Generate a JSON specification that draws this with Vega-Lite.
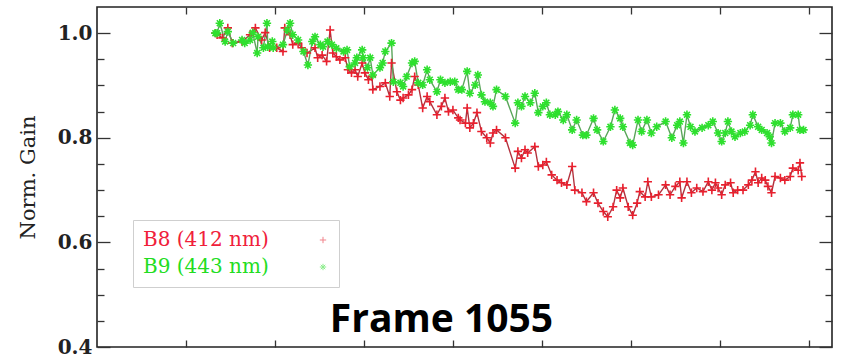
{
"$schema": "https://vega.github.io/schema/vega-lite/v6.json",
"width": 735, "height": 340,
"autosize": {"type": "none"},
"padding": {"left": 97, "top": 7, "right": 12, "bottom": 7},
"background": "white",
"config": {
  "view": {"stroke": "#222", "strokeWidth": 1.6},
  "axis": {"domain": false, "grid": false, "tickColor": "#333", "tickWidth": 1.3}
},
"title": {"text": "Frame 1055", "orient": "bottom", "anchor": "middle", "dx": -23, "offset": -25, "baseline": "alphabetic", "font": "Open Sans", "fontSize": 39, "fontWeight": "bold", "color": "#000"},
"data": {"values": [
{"s":"B8 (412 nm)","t":133,"v":1.000},{"s":"B8 (412 nm)","t":135,"v":0.997},{"s":"B8 (412 nm)","t":141,"v":0.991},{"s":"B8 (412 nm)","t":147,"v":1.010},{"s":"B8 (412 nm)","t":152,"v":0.981},{"s":"B8 (412 nm)","t":163,"v":0.984},{"s":"B8 (412 nm)","t":172,"v":0.997},{"s":"B8 (412 nm)","t":178,"v":1.010},{"s":"B8 (412 nm)","t":185,"v":0.987},{"s":"B8 (412 nm)","t":189,"v":1.001},{"s":"B8 (412 nm)","t":194,"v":0.972},{"s":"B8 (412 nm)","t":202,"v":0.972},{"s":"B8 (412 nm)","t":209,"v":0.965},{"s":"B8 (412 nm)","t":211,"v":1.010},{"s":"B8 (412 nm)","t":217,"v":0.997},{"s":"B8 (412 nm)","t":220,"v":0.978},{"s":"B8 (412 nm)","t":226,"v":0.981},{"s":"B8 (412 nm)","t":230,"v":0.972},{"s":"B8 (412 nm)","t":236,"v":0.962},{"s":"B8 (412 nm)","t":245,"v":0.972},{"s":"B8 (412 nm)","t":248,"v":0.953},{"s":"B8 (412 nm)","t":253,"v":0.958},{"s":"B8 (412 nm)","t":258,"v":0.946},{"s":"B8 (412 nm)","t":262,"v":1.006},{"s":"B8 (412 nm)","t":265,"v":0.962},
{"s":"B8 (412 nm)","t":269,"v":0.955},{"s":"B8 (412 nm)","t":273,"v":0.949},{"s":"B8 (412 nm)","t":279,"v":0.953},{"s":"B8 (412 nm)","t":282,"v":0.930},{"s":"B8 (412 nm)","t":286,"v":0.924},{"s":"B8 (412 nm)","t":290,"v":0.930},{"s":"B8 (412 nm)","t":293,"v":0.917},{"s":"B8 (412 nm)","t":298,"v":0.943},{"s":"B8 (412 nm)","t":301,"v":0.924},{"s":"B8 (412 nm)","t":305,"v":0.911},{"s":"B8 (412 nm)","t":309,"v":0.917},{"s":"B8 (412 nm)","t":310,"v":0.892},{"s":"B8 (412 nm)","t":318,"v":0.898},{"s":"B8 (412 nm)","t":324,"v":0.905},{"s":"B8 (412 nm)","t":329,"v":0.879},{"s":"B8 (412 nm)","t":331,"v":0.943},{"s":"B8 (412 nm)","t":337,"v":0.888},{"s":"B8 (412 nm)","t":341,"v":0.872},{"s":"B8 (412 nm)","t":344,"v":0.876},{"s":"B8 (412 nm)","t":350,"v":0.882},{"s":"B8 (412 nm)","t":354,"v":0.892},{"s":"B8 (412 nm)","t":357,"v":0.917},{"s":"B8 (412 nm)","t":361,"v":0.901},{"s":"B8 (412 nm)","t":366,"v":0.857},{"s":"B8 (412 nm)","t":371,"v":0.879},{"s":"B8 (412 nm)","t":374,"v":0.869},{"s":"B8 (412 nm)","t":382,"v":0.844},{"s":"B8 (412 nm)","t":387,"v":0.860},{"s":"B8 (412 nm)","t":391,"v":0.876},{"s":"B8 (412 nm)","t":395,"v":0.850},{"s":"B8 (412 nm)","t":400,"v":0.853},{"s":"B8 (412 nm)","t":406,"v":0.838},
{"s":"B8 (412 nm)","t":408,"v":0.834},{"s":"B8 (412 nm)","t":414,"v":0.828},{"s":"B8 (412 nm)","t":416,"v":0.857},{"s":"B8 (412 nm)","t":419,"v":0.819},{"s":"B8 (412 nm)","t":423,"v":0.828},{"s":"B8 (412 nm)","t":427,"v":0.848},{"s":"B8 (412 nm)","t":432,"v":0.812},{"s":"B8 (412 nm)","t":438,"v":0.800},{"s":"B8 (412 nm)","t":442,"v":0.790},{"s":"B8 (412 nm)","t":445,"v":0.809},{"s":"B8 (412 nm)","t":449,"v":0.815},{"s":"B8 (412 nm)","t":459,"v":0.800},{"s":"B8 (412 nm)","t":470,"v":0.742},{"s":"B8 (412 nm)","t":473,"v":0.774},{"s":"B8 (412 nm)","t":477,"v":0.761},{"s":"B8 (412 nm)","t":481,"v":0.777},{"s":"B8 (412 nm)","t":484,"v":0.771},{"s":"B8 (412 nm)","t":492,"v":0.783},{"s":"B8 (412 nm)","t":496,"v":0.745},{"s":"B8 (412 nm)","t":501,"v":0.748},{"s":"B8 (412 nm)","t":505,"v":0.754},{"s":"B8 (412 nm)","t":511,"v":0.729},{"s":"B8 (412 nm)","t":517,"v":0.719},{"s":"B8 (412 nm)","t":522,"v":0.714},{"s":"B8 (412 nm)","t":528,"v":0.710},{"s":"B8 (412 nm)","t":534,"v":0.745},{"s":"B8 (412 nm)","t":537,"v":0.700},{"s":"B8 (412 nm)","t":545,"v":0.695},
{"s":"B8 (412 nm)","t":550,"v":0.678},{"s":"B8 (412 nm)","t":558,"v":0.695},{"s":"B8 (412 nm)","t":563,"v":0.675},{"s":"B8 (412 nm)","t":569,"v":0.659},{"s":"B8 (412 nm)","t":574,"v":0.649},{"s":"B8 (412 nm)","t":580,"v":0.668},{"s":"B8 (412 nm)","t":584,"v":0.700},{"s":"B8 (412 nm)","t":588,"v":0.685},{"s":"B8 (412 nm)","t":591,"v":0.704},{"s":"B8 (412 nm)","t":597,"v":0.668},{"s":"B8 (412 nm)","t":602,"v":0.652},{"s":"B8 (412 nm)","t":607,"v":0.675},{"s":"B8 (412 nm)","t":610,"v":0.697},{"s":"B8 (412 nm)","t":616,"v":0.687},{"s":"B8 (412 nm)","t":619,"v":0.716},{"s":"B8 (412 nm)","t":623,"v":0.687},{"s":"B8 (412 nm)","t":631,"v":0.691},{"s":"B8 (412 nm)","t":639,"v":0.710},{"s":"B8 (412 nm)","t":644,"v":0.691},{"s":"B8 (412 nm)","t":650,"v":0.707},{"s":"B8 (412 nm)","t":655,"v":0.716},{"s":"B8 (412 nm)","t":657,"v":0.685},{"s":"B8 (412 nm)","t":663,"v":0.716},{"s":"B8 (412 nm)","t":668,"v":0.695},{"s":"B8 (412 nm)","t":674,"v":0.704},{"s":"B8 (412 nm)","t":681,"v":0.697},
{"s":"B8 (412 nm)","t":687,"v":0.716},{"s":"B8 (412 nm)","t":691,"v":0.700},{"s":"B8 (412 nm)","t":695,"v":0.714},{"s":"B8 (412 nm)","t":698,"v":0.704},{"s":"B8 (412 nm)","t":702,"v":0.691},{"s":"B8 (412 nm)","t":706,"v":0.710},{"s":"B8 (412 nm)","t":712,"v":0.714},{"s":"B8 (412 nm)","t":715,"v":0.695},{"s":"B8 (412 nm)","t":720,"v":0.700},{"s":"B8 (412 nm)","t":726,"v":0.700},{"s":"B8 (412 nm)","t":732,"v":0.710},{"s":"B8 (412 nm)","t":736,"v":0.719},{"s":"B8 (412 nm)","t":740,"v":0.735},{"s":"B8 (412 nm)","t":743,"v":0.714},{"s":"B8 (412 nm)","t":747,"v":0.723},{"s":"B8 (412 nm)","t":751,"v":0.719},{"s":"B8 (412 nm)","t":754,"v":0.707},{"s":"B8 (412 nm)","t":758,"v":0.695},{"s":"B8 (412 nm)","t":762,"v":0.726},{"s":"B8 (412 nm)","t":768,"v":0.723},{"s":"B8 (412 nm)","t":773,"v":0.719},{"s":"B8 (412 nm)","t":779,"v":0.726},{"s":"B8 (412 nm)","t":782,"v":0.742},{"s":"B8 (412 nm)","t":788,"v":0.738},{"s":"B8 (412 nm)","t":790,"v":0.752},{"s":"B8 (412 nm)","t":792,"v":0.726},
{"s":"B9 (443 nm)","t":133,"v":1.000},{"s":"B9 (443 nm)","t":135,"v":1.000},{"s":"B9 (443 nm)","t":138,"v":1.019},{"s":"B9 (443 nm)","t":144,"v":0.984},{"s":"B9 (443 nm)","t":147,"v":1.003},{"s":"B9 (443 nm)","t":153,"v":0.981},{"s":"B9 (443 nm)","t":163,"v":0.987},{"s":"B9 (443 nm)","t":166,"v":0.981},{"s":"B9 (443 nm)","t":172,"v":0.987},{"s":"B9 (443 nm)","t":175,"v":1.001},{"s":"B9 (443 nm)","t":180,"v":0.962},{"s":"B9 (443 nm)","t":181,"v":0.993},{"s":"B9 (443 nm)","t":187,"v":0.972},{"s":"B9 (443 nm)","t":191,"v":1.019},{"s":"B9 (443 nm)","t":192,"v":0.974},{"s":"B9 (443 nm)","t":197,"v":0.984},{"s":"B9 (443 nm)","t":198,"v":0.972},{"s":"B9 (443 nm)","t":209,"v":0.978},{"s":"B9 (443 nm)","t":214,"v":1.006},{"s":"B9 (443 nm)","t":217,"v":1.019},{"s":"B9 (443 nm)","t":220,"v":0.997},{"s":"B9 (443 nm)","t":226,"v":0.987},{"s":"B9 (443 nm)","t":232,"v":0.965},{"s":"B9 (443 nm)","t":237,"v":0.939},{"s":"B9 (443 nm)","t":242,"v":0.984},{"s":"B9 (443 nm)","t":245,"v":0.993},{"s":"B9 (443 nm)","t":251,"v":0.978},{"s":"B9 (443 nm)","t":254,"v":0.974},{"s":"B9 (443 nm)","t":259,"v":0.984},{"s":"B9 (443 nm)","t":264,"v":0.978},
{"s":"B9 (443 nm)","t":269,"v":0.971},{"s":"B9 (443 nm)","t":277,"v":0.965},{"s":"B9 (443 nm)","t":281,"v":0.968},{"s":"B9 (443 nm)","t":284,"v":0.936},{"s":"B9 (443 nm)","t":290,"v":0.943},{"s":"B9 (443 nm)","t":292,"v":0.953},{"s":"B9 (443 nm)","t":298,"v":0.968},{"s":"B9 (443 nm)","t":299,"v":0.953},{"s":"B9 (443 nm)","t":304,"v":0.934},{"s":"B9 (443 nm)","t":307,"v":0.953},{"s":"B9 (443 nm)","t":310,"v":0.920},{"s":"B9 (443 nm)","t":318,"v":0.934},{"s":"B9 (443 nm)","t":321,"v":0.943},{"s":"B9 (443 nm)","t":324,"v":0.965},{"s":"B9 (443 nm)","t":331,"v":0.981},{"s":"B9 (443 nm)","t":333,"v":0.907},{"s":"B9 (443 nm)","t":341,"v":0.905},{"s":"B9 (443 nm)","t":344,"v":0.898},{"s":"B9 (443 nm)","t":348,"v":0.917},{"s":"B9 (443 nm)","t":354,"v":0.943},{"s":"B9 (443 nm)","t":357,"v":0.946},{"s":"B9 (443 nm)","t":361,"v":0.905},{"s":"B9 (443 nm)","t":366,"v":0.901},{"s":"B9 (443 nm)","t":371,"v":0.930},{"s":"B9 (443 nm)","t":374,"v":0.911},{"s":"B9 (443 nm)","t":382,"v":0.888},{"s":"B9 (443 nm)","t":386,"v":0.911},{"s":"B9 (443 nm)","t":391,"v":0.905},{"s":"B9 (443 nm)","t":397,"v":0.907},{"s":"B9 (443 nm)","t":402,"v":0.907},{"s":"B9 (443 nm)","t":406,"v":0.892},
{"s":"B9 (443 nm)","t":410,"v":0.892},{"s":"B9 (443 nm)","t":416,"v":0.927},{"s":"B9 (443 nm)","t":419,"v":0.885},{"s":"B9 (443 nm)","t":425,"v":0.901},{"s":"B9 (443 nm)","t":428,"v":0.920},{"s":"B9 (443 nm)","t":432,"v":0.882},{"s":"B9 (443 nm)","t":436,"v":0.869},{"s":"B9 (443 nm)","t":442,"v":0.867},{"s":"B9 (443 nm)","t":445,"v":0.860},{"s":"B9 (443 nm)","t":449,"v":0.892},{"s":"B9 (443 nm)","t":459,"v":0.879},{"s":"B9 (443 nm)","t":470,"v":0.828},{"s":"B9 (443 nm)","t":473,"v":0.867},{"s":"B9 (443 nm)","t":477,"v":0.860},{"s":"B9 (443 nm)","t":481,"v":0.879},{"s":"B9 (443 nm)","t":487,"v":0.867},{"s":"B9 (443 nm)","t":492,"v":0.885},{"s":"B9 (443 nm)","t":496,"v":0.848},{"s":"B9 (443 nm)","t":501,"v":0.860},{"s":"B9 (443 nm)","t":505,"v":0.867},{"s":"B9 (443 nm)","t":509,"v":0.844},{"s":"B9 (443 nm)","t":515,"v":0.844},{"s":"B9 (443 nm)","t":518,"v":0.850},{"s":"B9 (443 nm)","t":524,"v":0.834},{"s":"B9 (443 nm)","t":528,"v":0.844},{"s":"B9 (443 nm)","t":534,"v":0.815},{"s":"B9 (443 nm)","t":539,"v":0.834},{"s":"B9 (443 nm)","t":546,"v":0.805},
{"s":"B9 (443 nm)","t":550,"v":0.805},{"s":"B9 (443 nm)","t":558,"v":0.837},{"s":"B9 (443 nm)","t":562,"v":0.815},{"s":"B9 (443 nm)","t":569,"v":0.793},{"s":"B9 (443 nm)","t":577,"v":0.821},{"s":"B9 (443 nm)","t":582,"v":0.853},{"s":"B9 (443 nm)","t":588,"v":0.837},{"s":"B9 (443 nm)","t":591,"v":0.821},{"s":"B9 (443 nm)","t":599,"v":0.790},{"s":"B9 (443 nm)","t":602,"v":0.786},{"s":"B9 (443 nm)","t":608,"v":0.834},{"s":"B9 (443 nm)","t":612,"v":0.812},{"s":"B9 (443 nm)","t":618,"v":0.834},{"s":"B9 (443 nm)","t":623,"v":0.809},{"s":"B9 (443 nm)","t":629,"v":0.821},{"s":"B9 (443 nm)","t":639,"v":0.831},{"s":"B9 (443 nm)","t":646,"v":0.800},{"s":"B9 (443 nm)","t":652,"v":0.824},{"s":"B9 (443 nm)","t":655,"v":0.831},{"s":"B9 (443 nm)","t":659,"v":0.790},{"s":"B9 (443 nm)","t":663,"v":0.844},{"s":"B9 (443 nm)","t":667,"v":0.821},{"s":"B9 (443 nm)","t":672,"v":0.812},{"s":"B9 (443 nm)","t":680,"v":0.819},
{"s":"B9 (443 nm)","t":687,"v":0.824},{"s":"B9 (443 nm)","t":692,"v":0.831},{"s":"B9 (443 nm)","t":698,"v":0.809},{"s":"B9 (443 nm)","t":702,"v":0.793},{"s":"B9 (443 nm)","t":706,"v":0.809},{"s":"B9 (443 nm)","t":709,"v":0.831},{"s":"B9 (443 nm)","t":713,"v":0.812},{"s":"B9 (443 nm)","t":717,"v":0.802},{"s":"B9 (443 nm)","t":723,"v":0.809},{"s":"B9 (443 nm)","t":728,"v":0.812},{"s":"B9 (443 nm)","t":734,"v":0.824},{"s":"B9 (443 nm)","t":737,"v":0.844},{"s":"B9 (443 nm)","t":743,"v":0.821},{"s":"B9 (443 nm)","t":747,"v":0.815},{"s":"B9 (443 nm)","t":753,"v":0.809},{"s":"B9 (443 nm)","t":756,"v":0.802},{"s":"B9 (443 nm)","t":758,"v":0.790},{"s":"B9 (443 nm)","t":762,"v":0.828},{"s":"B9 (443 nm)","t":768,"v":0.828},{"s":"B9 (443 nm)","t":773,"v":0.812},{"s":"B9 (443 nm)","t":779,"v":0.819},{"s":"B9 (443 nm)","t":782,"v":0.844},{"s":"B9 (443 nm)","t":788,"v":0.844},{"s":"B9 (443 nm)","t":790,"v":0.815},{"s":"B9 (443 nm)","t":794,"v":0.815}
]},
"layer": [
  {
    "transform": [{"filter": "datum.s == 'B8 (412 nm)'"}],
    "mark": {"type": "line", "strokeWidth": 1.4, "color": "#b3313d"},
    "encoding": {
      "x": {"field": "t", "type": "quantitative", "scale": {"domain": [0, 826], "nice": false, "zero": false},
            "axis": {"orient": "bottom", "values": [100,200,300,400,500,600,700,800], "labels": false, "tickSize": -7, "title": null}},
      "y": {"field": "v", "type": "quantitative", "scale": {"domain": [0.4, 1.05], "nice": false, "zero": false},
            "axis": {"orient": "left", "values": [0.4,0.6,0.8,1.0], "ticks": false, "format": ".1f",
                     "labelFont": "DejaVu Serif", "labelFontWeight": "bold", "labelFontSize": 20, "labelColor": "#222", "labelPadding": 5,
                     "title": "Norm. Gain", "titleFont": "DejaVu Serif", "titleFontWeight": "normal", "titleFontSize": 21, "titleColor": "#222", "titlePadding": 19}}
    }
  },
  {
    "transform": [{"filter": "datum.s == 'B9 (443 nm)'"}],
    "mark": {"type": "line", "strokeWidth": 1.4, "color": "#5aa55a"},
    "encoding": {
      "x": {"field": "t", "type": "quantitative", "scale": {"domain": [0, 826], "nice": false, "zero": false}, "axis": null},
      "y": {"field": "v", "type": "quantitative", "scale": {"domain": [0.4, 1.05], "nice": false, "zero": false},
            "axis": {"orient": "left", "values": [0.4,0.45,0.5,0.55,0.6,0.65,0.7,0.75,0.8,0.85,0.9,0.95,1.0],
                     "tickSize": {"condition": {"test": "abs(datum.value*5 - round(datum.value*5)) < 0.01", "value": -13}, "value": -7},
                     "labels": false, "title": null}}
    }
  },
  {
    "mark": {"type": "point", "filled": false, "size": 70, "strokeWidth": 1.6, "opacity": 1},
    "encoding": {
      "x": {"field": "t", "type": "quantitative", "scale": {"domain": [0, 826], "nice": false, "zero": false},
            "axis": {"orient": "top", "values": [100,200,300,400,500,600,700,800], "labels": false, "tickSize": -7, "title": null}},
      "y": {"field": "v", "type": "quantitative", "scale": {"domain": [0.4, 1.05], "nice": false, "zero": false},
            "axis": {"orient": "right", "values": [0.4,0.45,0.5,0.55,0.6,0.65,0.7,0.75,0.8,0.85,0.9,0.95,1.0],
                     "tickSize": {"condition": {"test": "abs(datum.value*5 - round(datum.value*5)) < 0.01", "value": -13}, "value": -7},
                     "labels": false, "title": null}},
      "color": {"field": "s", "type": "nominal", "scale": {"domain": ["B8 (412 nm)", "B9 (443 nm)"], "range": ["#e8202e", "#2ee02e"]},
                "legend": {"orient": "none", "legendX": 36, "legendY": 213, "title": null, "padding": 10, "fillColor": "white", "strokeColor": "#cfcfcf",
                           "labelFont": "DejaVu Serif", "labelFontSize": 20, "labelLimit": 400, "rowPadding": 7, "symbolSize": 40,
                           "labelColor": {"expr": "datum.value == 'B8 (412 nm)' ? '#f0203a' : '#22dd22'"},
                           "symbolType": "M-1,0L1,0M0,-1L0,1", "symbolOpacity": 0.55, "symbolStrokeWidth": 1, "symbolOffset": 170, "labelOffset": -190}},
      "shape": {"field": "s", "type": "nominal", "scale": {"domain": ["B8 (412 nm)", "B9 (443 nm)"], "range": ["M-1,0L1,0M0,-1L0,1", "M-1,0L1,0M0,-1L0,1M-0.7,-0.7L0.7,0.7M-0.7,0.7L0.7,-0.7"]},
                "legend": null}
    }
  }
],
"resolve": {"scale": {"x": "independent", "y": "independent"}, "axis": {"x": "independent", "y": "independent"}}
}
